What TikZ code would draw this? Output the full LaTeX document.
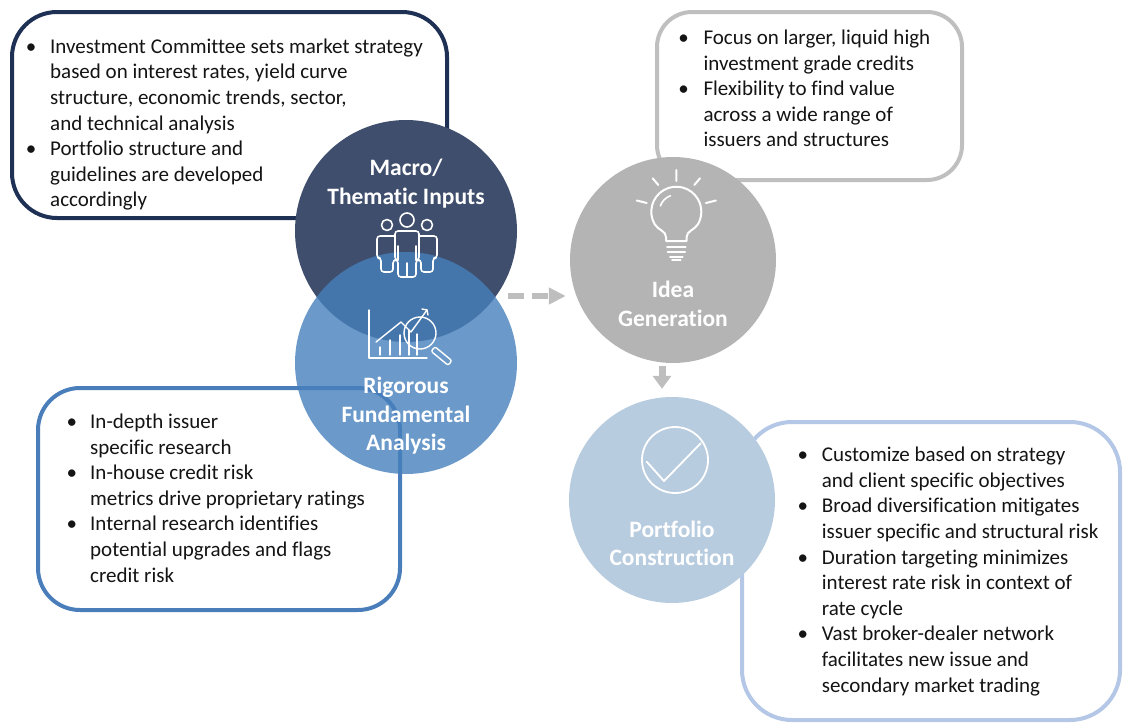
\documentclass[tikz,border=0pt]{standalone}
\usepackage{fontspec}
\setmainfont{Carlito}[Ligatures=CommonOff]
\usetikzlibrary{arrows.meta}
\definecolor{navy}{RGB}{31,48,85}
\definecolor{macrofill}{RGB}{63,78,108}
\definecolor{rigline}{RGB}{74,126,187}
\definecolor{rigfill}{RGB}{70,128,188}
\definecolor{rigplain}{RGB}{107,153,201}
\definecolor{greyline}{RGB}{191,191,191}
\definecolor{ideafill}{RGB}{180,180,180}
\definecolor{ltline}{RGB}{180,199,231}
\definecolor{portfill}{RGB}{184,204,224}
\definecolor{arrgrey}{RGB}{190,190,190}
\definecolor{txtcol}{RGB}{20,20,20}
\newcommand\bodyfnt{\fontsize{21}{25.6}\selectfont}
\newcommand\titlefnt{\fontsize{23.5}{28.7}\selectfont\bfseries}
\newcommand\bl{\makebox[0pt][c]{\textbullet}}
\begin{document}
\begin{tikzpicture}[x=1pt,y=-1pt,
  infobox/.style={draw=#1, line width=4pt, inner sep=0, fill=white},
  circ/.style={circle, inner sep=0, minimum size=#1},
  bodytxt/.style={anchor=base west, inner sep=0, font=\bodyfnt, text=txtcol},
  titletxt/.style={anchor=base, inner sep=0, font=\titlefnt, text=white},
  icon/.style={draw=white, line width=#1, line join=round, line cap=round},
  icon/.default=1.6pt,
  flowarrow/.style={draw=arrgrey, line width=#1}
]
\useasboundingbox (0,0) rectangle (1124,723);

% boxes
\node[infobox=navy, rounded corners=45pt, minimum width=435pt, minimum height=206pt] (box1) at (229.5,115) {};
\node[infobox=greyline, rounded corners=35pt, minimum width=305pt, minimum height=168pt] (box2) at (809.5,96) {};
\node[infobox=rigline, rounded corners=42pt, minimum width=362pt, minimum height=222pt] (box3) at (219,499) {};
\node[infobox=ltline, rounded corners=50pt, minimum width=378pt, minimum height=298pt] (box4) at (931,571) {};

% circles
\node[circ=222pt, fill=macrofill] (macro) at (406,231) {};
\node[circ=222pt, fill=rigfill, fill opacity=0.8] (rig) at (406,363) {};
\node[circ=206pt, fill=ideafill] (idea) at (673,260) {};
\node[circ=206pt, fill=portfill] (port) at (672,500) {};

% people icon
\draw[icon] (387,225) circle[radius=5.5];
\draw[icon] (427,225) circle[radius=5.5];
\draw[icon] (407,220) circle[radius=7];
\draw[icon, rounded corners=3pt] (395,236) -- (377,236) -- (377,258) -- (381,258) -- (381,272) -- (393,272) -- (393,260) -- (395,260);
\draw[icon, rounded corners=3pt] (419,236) -- (437,236) -- (437,258) -- (433,258) -- (433,272) -- (421,272) -- (421,260) -- (419,260);
\draw[icon, rounded corners=3pt] (398,277) -- (398,260) -- (395,260) -- (395,231) -- (419,231) -- (419,260) -- (416,260) -- (416,277) -- cycle;
\draw[icon] (407,263) -- (407,277);
\draw[icon] (398,246) -- (398,260);
\draw[icon] (416,246) -- (416,260);

% chart icon
\draw[icon=1.4pt] (369,310) -- (369,358) -- (427,358);
\draw[icon=1.4pt] (380,355) -- (380,347) (390,355) -- (390,340) (400,355) -- (400,335) (409,355) -- (409,330) (417,355) -- (417,334);
\draw[icon=1.4pt] (376,342) -- (401,322) -- (411,332) -- (427,310);
\draw[icon=1.4pt] (422,309) -- (427,310) -- (428,315);
\draw[icon=1.4pt] (420,333) circle[radius=16];
\draw[icon=1.4pt, rounded corners=2pt] (431.1,351.3) -- (448.1,365.3) -- (451.9,360.7) -- (434.9,346.7) -- cycle;

% bulb icon
\draw[icon=2pt] (666,241) -- (666,237) .. controls (666,231) and (658,230) .. (654.65,224.2)
  arc[start angle=150, end angle=390, radius=25] .. controls (694.6,230) and (686.6,231) .. (686.6,237) -- (686.6,241) -- cycle;
\draw[icon=2pt] (667,246.5) -- (685.6,246.5) (667.5,251.5) -- (685,251.5) (670,256.5) -- (682.6,256.5);
\draw[icon=2pt] (672,259.5) -- (680.6,259.5);
\draw[icon=1.6pt] (676.3,211.7) ++(200:17) arc[start angle=200, end angle=250, radius=17];
\draw[icon=2pt] (676.3,170) -- (676.3,181) (652.7,178.3) -- (658.3,185) (700,178.3) -- (694.3,185)
  (636.7,200.5) -- (646.7,203) (715.9,200.5) -- (705.9,203);

% check icon
\draw[icon=1.8pt] (675,460) circle[radius=33];
\draw[icon=1.8pt] (646.7,461.7) -- (664,481) -- (700.7,443.3);

% titles
\node[titletxt] (macroT) at (406,175) {\begin{tabular}[t]{@{}c@{}}Macro/\\[0.3pt]Thematic Inputs\end{tabular}};
\node[titletxt] (rigT) at (406,393.5) {\begin{tabular}[t]{@{}c@{}}Rigorous\\Fundamental\\Analysis\end{tabular}};
\node[titletxt] (ideaT) at (673,297.5) {\begin{tabular}[t]{@{}c@{}}Idea\\Generation\end{tabular}};
\node[titletxt] (portT) at (672,537) {\begin{tabular}[t]{@{}c@{}}Portfolio\\Construction\end{tabular}};

% arrows
\coordinate (dS) at (508,296);
\draw[flowarrow=5.5pt, dash pattern=on 16pt off 8pt, -{Triangle[length=17pt,width=16pt]}, shorten >=4pt] (dS) -- (dS -| idea.west);
\coordinate (dD) at (662,366);
\draw[flowarrow=7pt, -{Triangle[length=13pt,width=18pt]}, shorten >=8pt] (dD) -- (dD |- port.north);

% box texts
\node[bodytxt] (t1) at (31,53.3) {\begin{tabular}[t]{@{}p{19pt}@{}l@{}}
\bl & Investment Committee sets market strategy\\
 & based on interest rates, yield curve\\
 & structure, economic trends, sector,\\
 & and technical analysis\\
\bl & Portfolio structure and\\
 & guidelines are developed\\
 & accordingly
\end{tabular}};
\node[bodytxt] (t2) at (683.3,44.5) {\begin{tabular}[t]{@{}p{20pt}@{}l@{}}
\bl & Focus on larger, liquid high\\
 & investment grade credits\\
\bl & Flexibility to find value\\
 & across a wide range of\\
 & issuers and structures
\end{tabular}};
\node[bodytxt] (t3) at (71.7,428.5) {\begin{tabular}[t]{@{}p{18.3pt}@{}l@{}}
\bl & In-depth issuer\\
 & specific research\\
\bl & In-house credit risk\\
 & metrics drive proprietary ratings\\
\bl & Internal research identifies\\
 & potential upgrades and flags\\
 & credit risk
\end{tabular}};
\node[bodytxt] (t4) at (802.7,461.7) {\begin{tabular}[t]{@{}p{19pt}@{}l@{}}
\bl & Customize based on strategy\\
 & and client specific objectives\\
\bl & Broad diversification mitigates\\
 & issuer specific and structural risk\\
\bl & Duration targeting minimizes\\
 & interest rate risk in context of\\
 & rate cycle\\
\bl & Vast broker-dealer network\\
 & facilitates new issue and\\
 & secondary market trading
\end{tabular}};
\end{tikzpicture}
\end{document}
